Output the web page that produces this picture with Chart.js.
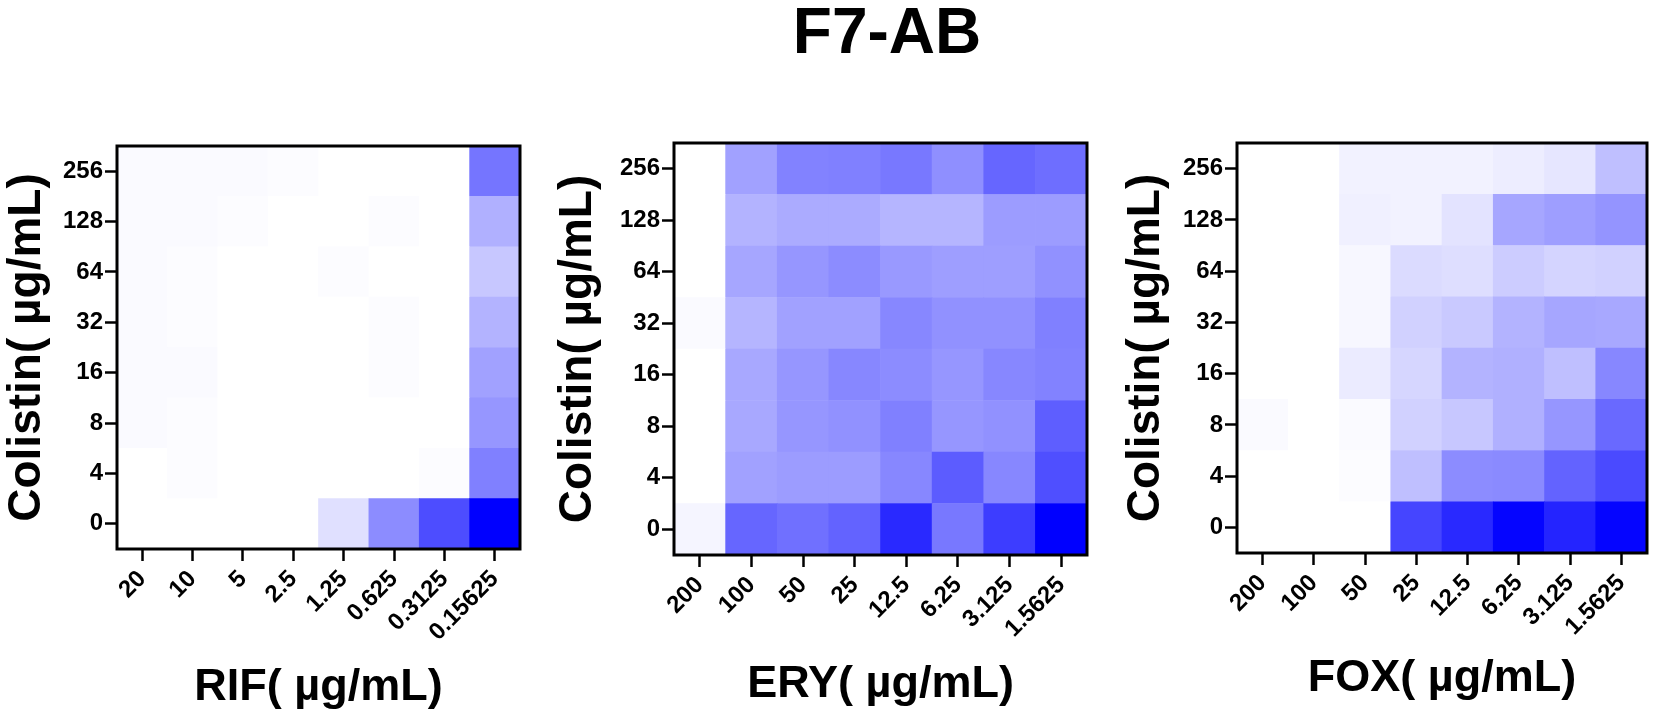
<!DOCTYPE html>
<html>
<head>
<meta charset="utf-8">
<script src="https://cdn.jsdelivr.net/npm/chart.js@4.4.1/dist/chart.umd.min.js"></script>
<style>
  html, body { margin: 0; padding: 0; background: #fff; }
  body { width: 1654px; height: 717px; position: relative; overflow: hidden; font-family: 'Liberation Sans', Arial, sans-serif; }
  #title { position: absolute; left: 487px; top: -1px; width: 800px; text-align: center; font-weight: bold; font-size: 64px; line-height: 64px; color: #000; }
  .panel { position: absolute; top: 0; height: 717px; }
</style>
</head>
<body>
<div id="title">F7-AB</div>
<div class="panel" style="left:0;width:530px"><canvas id="rifChart"></canvas></div>
<div class="panel" style="left:530px;width:570px"><canvas id="eryChart"></canvas></div>
<div class="panel" style="left:1100px;width:554px"><canvas id="foxChart"></canvas></div>
<script>
// Row labels (bottom to top) and column labels
const colistinLabels = ['0', '4', '8', '16', '32', '64', '128', '256'];
const rifLabels = ['20', '10', '5', '2.5', '1.25', '0.625', '0.3125', '0.15625'];
const eryLabels = ['200', '100', '50', '25', '12.5', '6.25', '3.125', '1.5625'];
const foxLabels = ['200', '100', '50', '25', '12.5', '6.25', '3.125', '1.5625'];

// Relative growth per cell (0 = white, 1 = full blue), one row per colistin level
const rifValues = [
	[0, 0, 0, 0, 0.12, 0.45, 0.70, 1.00],
	[0, 0.01, 0, 0, 0, 0, 0.01, 0.50],
	[0.02, 0.01, 0, 0, 0, 0, 0, 0.41],
	[0.02, 0.02, 0, 0, 0, 0.01, 0, 0.37],
	[0.02, 0.01, 0, 0, 0, 0.01, 0, 0.30],
	[0.02, 0.01, 0, 0, 0.01, 0, 0, 0.22],
	[0.02, 0.02, 0.01, 0, 0, 0.01, 0, 0.31],
	[0.02, 0.02, 0.02, 0.01, 0, 0, 0, 0.54]
];
const eryValues = [
	[0.04, 0.60, 0.56, 0.61, 0.84, 0.53, 0.76, 1.00],
	[0, 0.37, 0.39, 0.39, 0.47, 0.64, 0.47, 0.69],
	[0, 0.34, 0.41, 0.43, 0.50, 0.41, 0.43, 0.63],
	[0, 0.34, 0.41, 0.47, 0.45, 0.41, 0.47, 0.49],
	[0.02, 0.29, 0.37, 0.37, 0.47, 0.43, 0.43, 0.50],
	[0, 0.35, 0.41, 0.45, 0.40, 0.38, 0.38, 0.43],
	[0, 0.30, 0.33, 0.33, 0.29, 0.29, 0.39, 0.39],
	[0, 0.37, 0.49, 0.50, 0.53, 0.44, 0.60, 0.57]
];
const foxValues = [
	[0, 0, 0, 0.73, 0.84, 0.98, 0.86, 0.98],
	[0, 0, 0.01, 0.25, 0.45, 0.46, 0.61, 0.71],
	[0.02, 0, 0.02, 0.18, 0.22, 0.31, 0.41, 0.59],
	[0, 0, 0.08, 0.16, 0.30, 0.31, 0.25, 0.47],
	[0, 0, 0.03, 0.18, 0.21, 0.30, 0.35, 0.34],
	[0, 0, 0.03, 0.14, 0.13, 0.20, 0.17, 0.18],
	[0, 0, 0.06, 0.05, 0.11, 0.35, 0.38, 0.42],
	[0, 0, 0.05, 0.05, 0.05, 0.07, 0.10, 0.25]
];

const fontFamily = "'Liberation Sans', Arial, sans-serif";
const tickFont = { family: fontFamily, size: 24, weight: 'bold' };

function cellColor(v) {
	const c = Math.round(255 * (1 - v));
	return 'rgb(' + c + ',' + c + ',255)';
}

// box around the plot area
const framePlugin = {
	id: 'frame',
	afterDraw(chart) {
		const { ctx, chartArea: a } = chart;
		ctx.save();
		ctx.strokeStyle = '#000';
		ctx.lineWidth = 3;
		ctx.strokeRect(a.left, a.top, a.right - a.left, a.bottom - a.top);
		ctx.restore();
	}
};

function makeHeatmap(id, xLabels, values, xTitle, g) {
	return new Chart(document.getElementById(id), {
		type: 'bar',
		data: {
			labels: xLabels,
			datasets: colistinLabels.map((row, r) => ({
				label: row,
				data: xLabels.map(() => 1),
				backgroundColor: values[r].map(cellColor),
				borderWidth: 0,
				barPercentage: 1,
				categoryPercentage: 1
			}))
		},
		options: {
			responsive: true,
			maintainAspectRatio: false,
			animation: false,
			events: [],
			layout: { padding: { top: g.top, right: g.right, left: 0, bottom: 0 } },
			plugins: { legend: { display: false }, tooltip: { enabled: false } },
			scales: {
				x: {
					stacked: true,
					offset: true,
					border: { display: false },
					grid: { offset: false, drawOnChartArea: false, drawTicks: true, tickLength: 12, tickWidth: 2.5, tickColor: '#000' },
					ticks: { font: tickFont, color: '#000', minRotation: 45, maxRotation: 45, autoSkip: false, padding: 4 },
					title: {
						display: true,
						text: xTitle,
						color: '#000',
						font: { family: fontFamily, size: 45, weight: 'bold' },
						padding: { top: 0, bottom: g.xTitlePad }
					},
					afterFit: (s) => { s.height = g.xHeight; }
				},
				y: {
					stacked: true,
					min: 0,
					max: 8,
					border: { display: false },
					afterBuildTicks: (s) => { s.ticks = colistinLabels.map((_, i) => ({ value: i + 0.5 })); },
					grid: { drawOnChartArea: false, drawTicks: true, tickLength: 12, tickWidth: 2.5, tickColor: '#000' },
					ticks: { font: tickFont, color: '#000', padding: 2, callback: (v, i) => colistinLabels[i] },
					title: {
						display: true,
						text: 'Colistin( µg/mL)',
						color: '#000',
						font: { family: fontFamily, size: 46, weight: 'bold' },
						padding: { top: g.yTitlePad, bottom: 0 }
					},
					afterFit: (s) => { s.width = g.yWidth; }
				}
			}
		},
		plugins: [framePlugin]
	});
}

makeHeatmap('rifChart', rifLabels, rifValues, 'RIF( µg/mL)',
	{ top: 146, right: 10, yWidth: 117, xHeight: 168, xTitlePad: 2, yTitlePad: 0 });
makeHeatmap('eryChart', eryLabels, eryValues, 'ERY( µg/mL)',
	{ top: 143, right: 13, yWidth: 144, xHeight: 162, xTitlePad: 5, yTitlePad: 21 });
makeHeatmap('foxChart', foxLabels, foxValues, 'FOX( µg/mL)',
	{ top: 143, right: 7, yWidth: 137, xHeight: 164, xTitlePad: 11, yTitlePad: 19 });
</script>
</body>
</html>
